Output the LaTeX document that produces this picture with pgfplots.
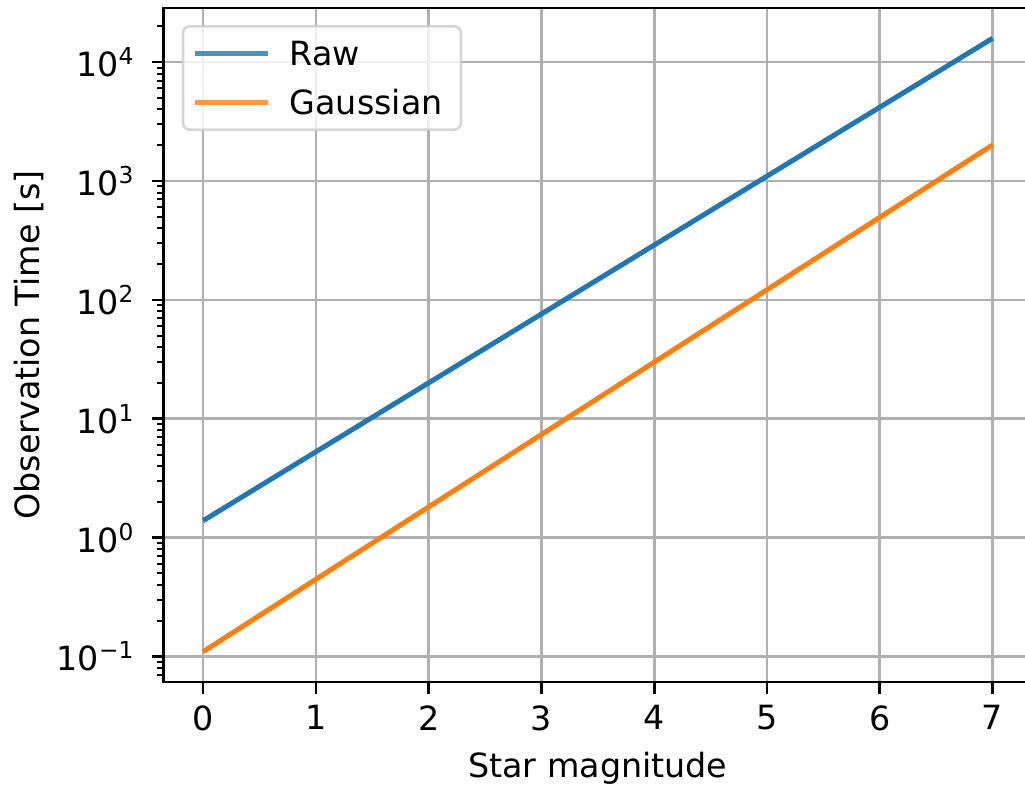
\documentclass[border=0pt]{standalone}
\usepackage{fontspec}
\setmainfont{DejaVu Sans}
\usepackage{pgfplots}
\pgfplotsset{compat=1.18}
\definecolor{c0}{HTML}{1F77B4}
\definecolor{c1}{HTML}{FF7F0E}
\definecolor{gridc}{HTML}{B0B0B0}
\definecolor{legc}{HTML}{CCCCCC}
\begin{document}
\begin{tikzpicture}
\begin{axis}[
  scale only axis, width=260.5pt, height=202.2pt,
  ymode=log, xmin=-0.35, xmax=7.35, ymin=0.0611, ymax=28510,
  font=\fontsize{10}{12}\selectfont,
  /pgf/number format/assume math mode=true,
  xtick={0,1,2,3,4,5,6,7},
  xticklabels={0,1,2,3,4,5,6,7},
  ytick={0.1,1,10,100,1000,10000},
  yticklabels={10\textsuperscript{−1},10\textsuperscript{0},10\textsuperscript{1},10\textsuperscript{2},10\textsuperscript{3},10\textsuperscript{4}},
  minor ytick={0.07,0.08,0.09,0.2,0.3,0.4,0.5,0.6,0.7,0.8,0.9,2,3,4,5,6,7,8,9,20,30,40,50,60,70,80,90,200,300,400,500,600,700,800,900,2000,3000,4000,5000,6000,7000,8000,9000,20000},
  grid=major,
  major grid style={gridc, line width=0.8pt},
  axis line style={line width=0.8pt, black},
  tick align=outside,
  xtick pos=left, ytick pos=left,
  major tick length=3.5pt, minor tick length=2pt,
  major tick style={line width=0.8pt, black},
  minor tick style={line width=0.6pt, black},
  yticklabel style={xshift=-1.5pt},
  xlabel={Star magnitude},
  ylabel={Observation Time [s]},
  xlabel style={at={(axis description cs:0.5,0)}, anchor=center, yshift=-25.9pt},
  ylabel style={at={(axis description cs:-0.1547,0.5)}, anchor=center},
  legend cell align=left,
  legend style={at={(axis description cs:0.0207,0.9748)}, anchor=north west,
    draw=legc, draw opacity=0.8, line width=0.8pt, fill=white, fill opacity=0.8, text opacity=1,
    rounded corners=2pt, inner xsep=3pt, inner ysep=4.5pt, row sep=7.4pt, column sep=5.6pt,
    nodes={inner sep=0pt, text height=7.3pt, text depth=0pt},
    font=\fontsize{10}{12}\selectfont},
  legend image code/.code={\draw[#1, line width=1.5pt] (0pt,0pt) -- (21.9pt,0pt);},
]
\addplot[c0, line width=1.5pt] coordinates {(0,1.39) (7,15850)};
\addlegendentry{Raw}
\addplot[c1, line width=1.5pt] coordinates {(0,0.11) (7,2010)};
\addlegendentry{Gaussian\rule{2.5pt}{0pt}}
\coordinate (bl) at (rel axis cs:0,0);
\coordinate (tr) at (rel axis cs:1,1);
\end{axis}
\pgfresetboundingbox
\path[use as bounding box] ([shift={(-49.1pt,-31.5pt)}]bl) rectangle ([shift={(-2.1pt,2.4pt)}]tr);
\end{tikzpicture}
\end{document}
